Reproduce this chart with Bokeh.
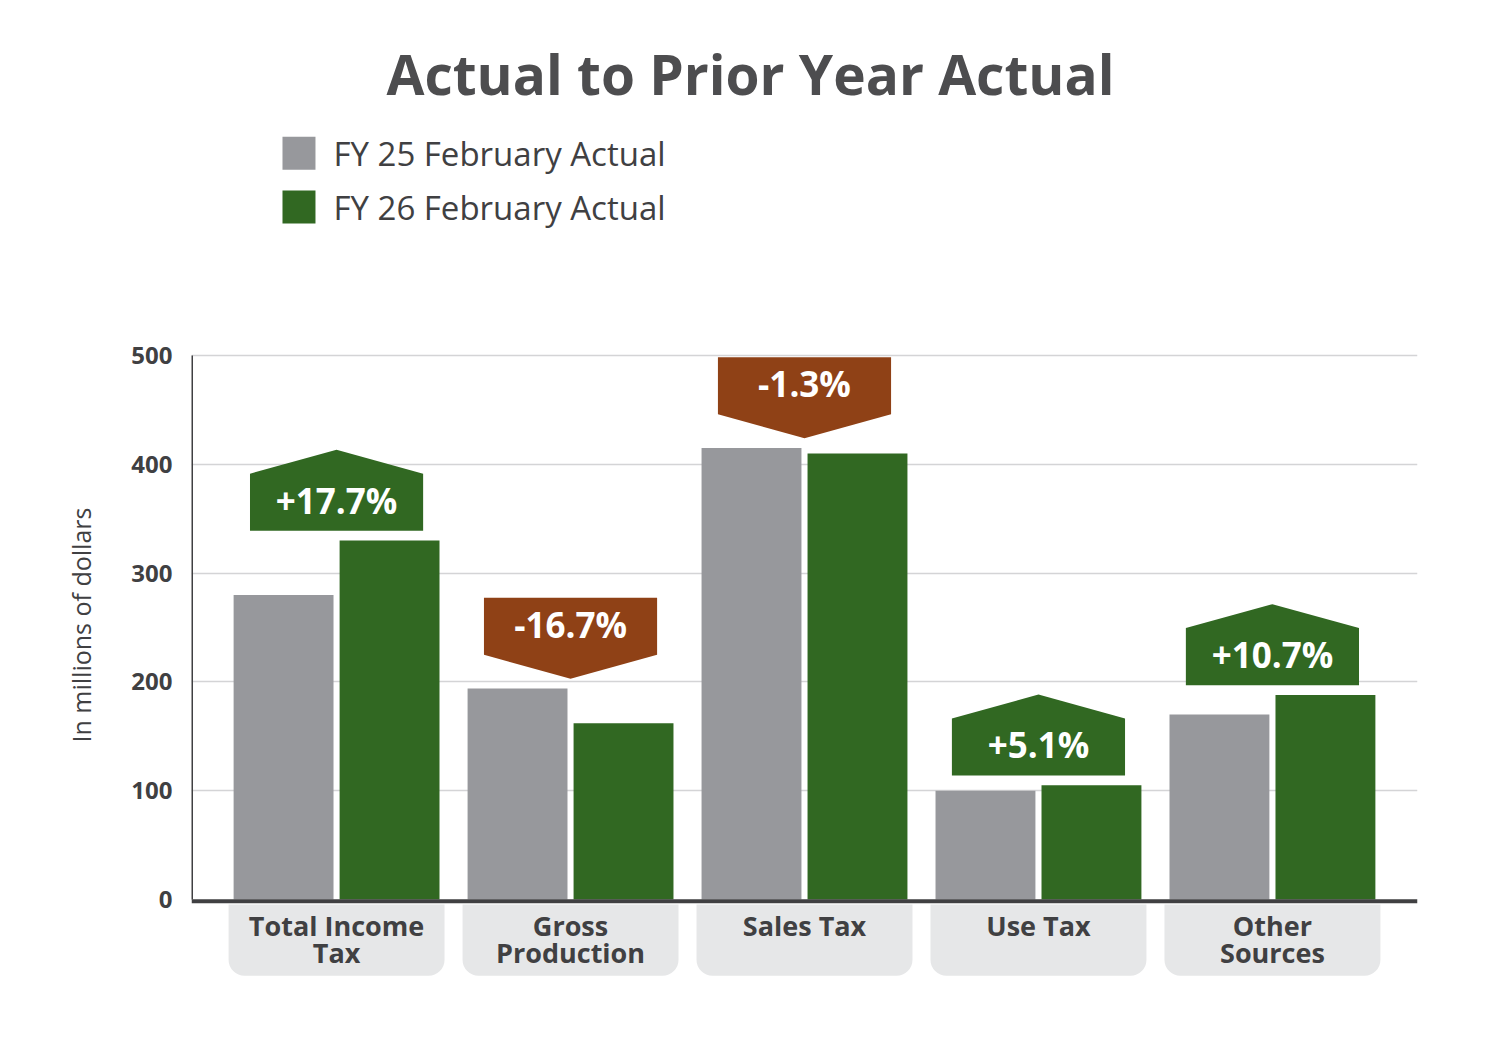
from bokeh.plotting import figure
from bokeh.models import Range1d, FixedTicker, Title
from bokeh.core.properties import value
from bokeh.embed import file_html
from bokeh.resources import INLINE

# ---- data ----
categories = ["Total Income\nTax", "Gross\nProduction", "Sales Tax", "Use Tax", "Other\nSources"]
fy25 = [280, 194, 415, 100, 170]
fy26 = [330, 162, 410, 105, 188]
changes = ["+17.7%", "-16.7%", "-1.3%", "+5.1%", "+10.7%"]
series_names = ["FY 25 February Actual", "FY 26 February Actual"]
y_ticks = [0, 100, 200, 300, 400, 500]
title_text = "Actual to Prior Year Actual"
y_label = "In millions of dollars"

GRAY = "#97989c"
GREEN = "#316822"
BROWN = "#8f4116"
DARK = "#404042"
BOX = "#e6e7e8"
FONT = value("Open Sans")

W, H = 1484, 1037
p = figure(width=W, height=H, output_backend="svg", toolbar_location=None,
           x_range=Range1d(-0.62, 4.62), y_range=Range1d(-79, 808),
           min_border_left=191, min_border_right=67, min_border_top=20, min_border_bottom=52,
           tools="")
p.outline_line_color = None
p.background_fill_color = "white"
p.xaxis.visible = False
p.xgrid.visible = False
p.ygrid.ticker = FixedTicker(ticks=[t for t in y_ticks if t > 0])
p.ygrid.grid_line_color = "#d4d4d6"
p.ygrid.grid_line_width = 1.6

ya = p.yaxis[0]
ya.ticker = FixedTicker(ticks=y_ticks)
ya.axis_line_color = None
ya.major_tick_line_color = None
ya.minor_tick_line_color = None
ya.major_label_text_font = "Open Sans"
ya.major_label_text_font_style = "bold"
ya.major_label_text_font_size = "24px"
ya.major_label_text_color = DARK
ya.major_label_standoff = 13

xs = list(range(len(categories)))
off = 0.2265
bw = 0.427

# bars
p.vbar(x=[x - off for x in xs], top=fy25, bottom=0, width=bw, fill_color=GRAY, line_color=None)
p.vbar(x=[x + off for x in xs], top=fy26, bottom=0, width=bw, fill_color=GREEN, line_color=None)

# axis lines
p.segment(x0=[-0.62], y0=[0], x1=[-0.62], y1=[500], line_color=DARK, line_width=3)
p.segment(x0=[-0.62], y0=[-1.5], x1=[4.62], y1=[-1.5], line_color=DARK, line_width=4)

# category boxes
p.quad(left=[x - 0.4615 for x in xs], right=[x + 0.4615 for x in xs],
       top=[-4.5] * len(xs), bottom=[-70] * len(xs),
       fill_color=BOX, line_color=None, border_radius=(0, 0, 16, 16))
line1 = [c.split("\n")[0] for c in categories]
line2 = [c.split("\n")[1] if "\n" in c else "" for c in categories]
for lines, yy in ((line1, -23.9), (line2, -48.7)):
    p.text(x=xs, y=[yy] * len(xs), text=lines, text_font=FONT, text_font_style="bold",
           text_font_size="27px", text_color=DARK, text_align="center", text_baseline="middle")

# badges
gap, rect_h, apex_h, hw = 9, 52.5, 22, 0.37
bx, by, tx, ty, cols = [], [], [], [], []
for x, a, b, c in zip(xs, fy25, fy26, changes):
    base = max(a, b) + gap
    if b >= a:
        y0, y1 = base, base + rect_h
        bx.append([x - hw, x + hw, x + hw, x, x - hw])
        by.append([y0, y0, y1, y1 + apex_h, y1])
        cols.append(GREEN)
    else:
        y0, y1 = base + apex_h, base + apex_h + rect_h
        bx.append([x - hw, x - hw, x + hw, x + hw, x])
        by.append([y0, y1, y1, y0, base])
        cols.append(BROWN)
    tx.append(x)
    ty.append((y0 + y1) / 2 + 2)
p.patches(xs=bx, ys=by, fill_color=cols, line_color=None)
p.text(x=tx, y=ty, text=changes, text_font=FONT, text_font_style="bold", text_font_size="35px",
       text_color="white", text_align="center", text_baseline="middle")

# title
p.text(x=[1.769], y=[759], text=[title_text], text_font=FONT, text_font_style="bold",
       text_font_size="55px", text_color="#4d4d4f", text_align="center", text_baseline="middle")

# legend
leg_y = [686, 636.5]
p.rect(x=[-0.1606] * 2, y=leg_y, width=0.141, height=30.3, fill_color=[GRAY, GREEN], line_color=None)
p.text(x=[-0.0132] * 2, y=leg_y, text=series_names, text_font=FONT, text_font_size="33px",
       text_color=DARK, text_align="left", text_baseline="middle")

# y axis label
p.add_layout(Title(text=y_label, align="left", offset=243, standoff=62, text_font="Open Sans",
                   text_font_size="25px", text_font_style="normal", text_color=DARK), "left")

open("out.html", "w").write(file_html(p, INLINE))
